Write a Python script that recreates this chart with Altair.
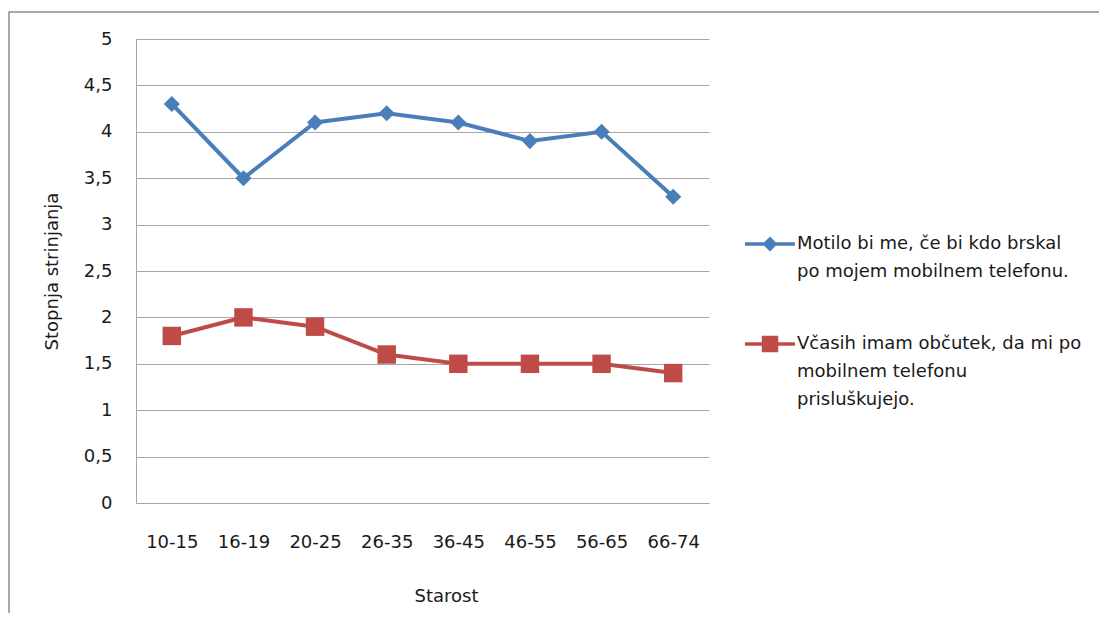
import altair as alt
import pandas as pd

ages = ["10-15", "16-19", "20-25", "26-35", "36-45", "46-55", "56-65", "66-74"]
series_a = "Motilo bi me, če bi kdo brskal|po mojem mobilnem telefonu."
series_b = "Včasih imam občutek, da mi po|mobilnem telefonu|prisluškujejo."
values_a = [4.3, 3.5, 4.1, 4.2, 4.1, 3.9, 4.0, 3.3]
values_b = [1.8, 2.0, 1.9, 1.6, 1.5, 1.5, 1.5, 1.4]
y_ticks = [0, 0.5, 1, 1.5, 2, 2.5, 3, 3.5, 4, 4.5, 5]

rows = []
for a, v in zip(ages, values_a):
    rows.append({"age": a, "value": v, "series": series_a})
for a, v in zip(ages, values_b):
    rows.append({"age": a, "value": v, "series": series_b})
df = pd.DataFrame(rows)

FONT = "DejaVu Sans"
FS = 18
BLUE = "#4a7ebb"
RED = "#be4b48"
GRID = "#a6a6a6"

color_scale = alt.Scale(domain=[series_a, series_b], range=[BLUE, RED])

path_a = "M-1,-0.07L1,-0.07L1,0.07L-1,0.07Z M0,-0.3L0.3,0L0,0.3L-0.3,0Z"
path_b = "M-1,-0.07L1,-0.07L1,0.07L-1,0.07Z M-0.33,-0.33L0.33,-0.33L0.33,0.33L-0.33,0.33Z"

legend_spec = alt.Legend(
    title=None,
    orient="none",
    legendX=609,
    legendY=180,
    labelExpr="split(datum.label, '|')",
    labelFontSize=FS,
    labelLimit=400,
    labelOffset=2,
    labelColor="#1a1a1a",
    labelFont=FONT,
    symbolSize=2500,
    symbolOpacity=1,
    symbolStrokeWidth=0,
    rowPadding=38,
    padding=0,
)

x_enc = alt.X(
    "age:N",
    sort=ages,
    scale=alt.Scale(type="point", padding=0.5),
    axis=alt.Axis(
        title="Starost",
        labelAngle=0,
        ticks=False,
        grid=False,
        labelPadding=30,
        labelFontSize=FS,
        titleFontSize=FS,
        titleFontWeight="normal",
        titleX=310,
        titleY=93,
        titleBaseline="middle",
        domainColor=GRID,
    ),
)
y_enc = alt.Y(
    "value:Q",
    scale=alt.Scale(domain=[0, 5], nice=False, zero=True),
    axis=alt.Axis(
        title="Stopnja strinjanja",
        values=y_ticks,
        labelExpr="replace(toString(datum.value), '.', ',')",
        ticks=False,
        grid=True,
        gridColor=GRID,
        domainColor=GRID,
        labelPadding=24,
        labelFontSize=FS,
        titleFontSize=FS,
        titleFontWeight="normal",
        titleX=-84,
        titleY=232,
        titleAngle=-90,
        titleAlign="center",
        titleBaseline="middle",
    ),
)

base = alt.Chart(df)
color_enc = alt.Color("series:N", scale=color_scale, legend=legend_spec)

lines = base.mark_line(strokeWidth=4).encode(
    x=x_enc, y=y_enc, color=color_enc, detail="series:N",
)

pts_a = base.transform_filter(alt.datum.series == series_a).mark_point(
    shape="diamond", filled=True, size=260, opacity=1
).encode(x=x_enc, y=y_enc, color=color_enc)

pts_b = base.transform_filter(alt.datum.series == series_b).mark_point(
    shape="square", filled=True, size=340, opacity=1
).encode(x=x_enc, y=y_enc, color=color_enc)

legend_layer = base.mark_point(filled=True, opacity=0).encode(
    x=x_enc, y=y_enc,
    color=color_enc,
    shape=alt.Shape("series:N", scale=alt.Scale(domain=[series_a, series_b], range=[path_a, path_b]), legend=legend_spec),
)

frame = alt.Chart(pd.DataFrame({"k": [0]})).mark_rect(
    fill=None, stroke="#8c8c8c", strokeWidth=1.5
).encode(
    x=alt.value(-127), x2=alt.value(1100), y=alt.value(-27), y2=alt.value(700)
)

chart = alt.layer(frame, lines, pts_a, pts_b, legend_layer).properties(
    width=573,
    height=464,
    autosize=alt.AutoSizeParams(type="none"),
    padding={"left": 128, "top": 31, "right": 390, "bottom": 110},
    background="white",
).configure(
    style={"guide-label": {"lineHeight": 28}}
).configure_view(stroke=None).configure_axis(
    labelFont=FONT, titleFont=FONT, labelColor="#1a1a1a", titleColor="#1a1a1a", gridWidth=1, domainWidth=1
)

chart.save("out.html", embed_options={"renderer": "svg", "actions": False})
